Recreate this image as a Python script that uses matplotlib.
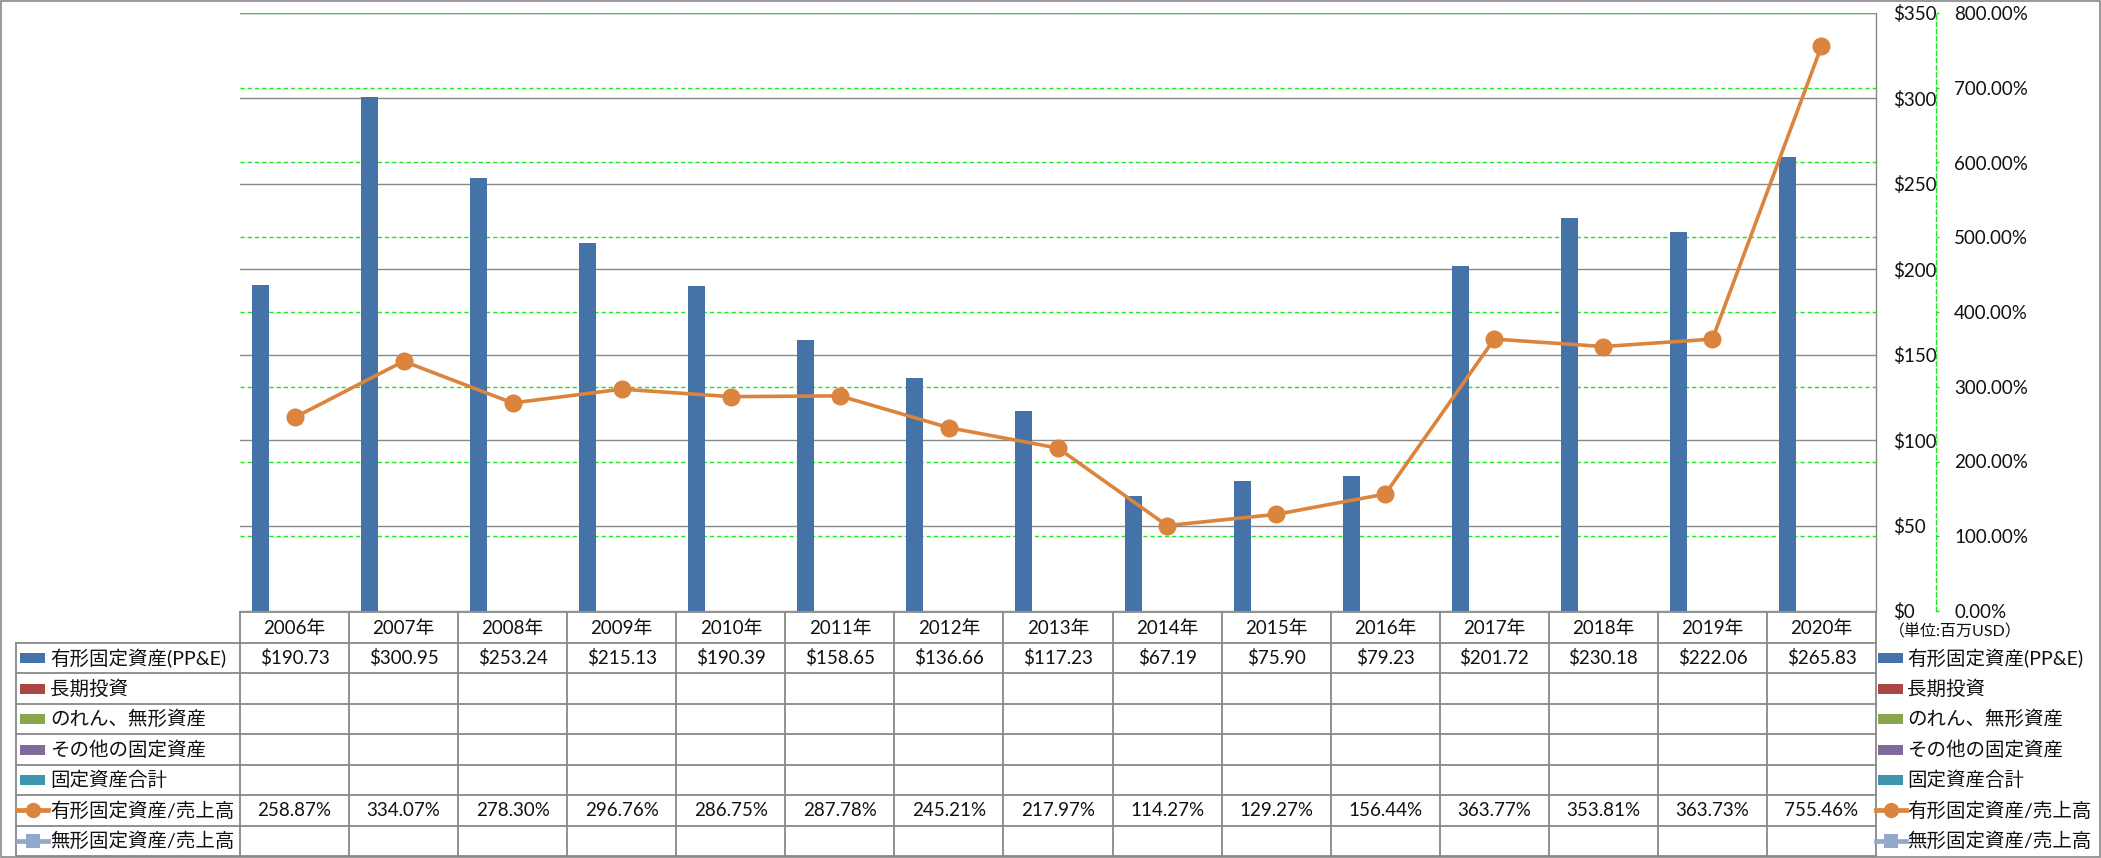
import matplotlib
matplotlib.use('Agg')
import matplotlib.pyplot as plt
from matplotlib import transforms
from matplotlib.patches import Rectangle
from matplotlib.lines import Line2D
from matplotlib.ticker import FuncFormatter

# ---------------- data ----------------
years = ['2006年', '2007年', '2008年', '2009年', '2010年', '2011年', '2012年', '2013年',
         '2014年', '2015年', '2016年', '2017年', '2018年', '2019年', '2020年']
ppe = [190.73, 300.95, 253.24, 215.13, 190.39, 158.65, 136.66, 117.23,
       67.19, 75.90, 79.23, 201.72, 230.18, 222.06, 265.83]
ppe_ratio = [258.87, 334.07, 278.30, 296.76, 286.75, 287.78, 245.21, 217.97,
             114.27, 129.27, 156.44, 363.77, 353.81, 363.73, 755.46]
series_names = ['有形固定資産(PP&E)', '長期投資', 'のれん、無形資産', 'その他の固定資産',
                '固定資産合計', '有形固定資産/売上高', '無形固定資産/売上高']
series_colors = ['#4572A7', '#AA4643', '#89A54E', '#80699B', '#3D96AE', '#DB843D', '#92A8CD']
series_kinds = ['bar', 'bar', 'bar', 'bar', 'bar', 'line_o', 'line_s']
usd_ticks = [0, 50, 100, 150, 200, 250, 300, 350]
pct_ticks = [0, 100, 200, 300, 400, 500, 600, 700, 800]
unit_label = '（単位:百万USD）'

# ---------------- style ----------------
plt.rcParams['font.family'] = ['Lato', 'Noto Sans CJK JP']
W, H = 2101, 858
PL, PR, PT, PB = 240, 1876, 13, 611
GRAY = '#888888'
GREEN = '#19E619'
TXT = '#111111'

fig = plt.figure(figsize=(W / 100, H / 100), dpi=100)
ax = fig.add_axes([PL / W, 1 - PB / H, (PR - PL) / W, (PB - PT) / H])
ax2 = ax.twinx()

n = len(years)
x = list(range(n))
bw = 0.156

# bars (first slot of five clustered series)
ax.bar([i - 2 * bw for i in x], ppe, width=bw, color=series_colors[0], zorder=3)
ax.set_xlim(-0.5, n - 0.5)
ax.set_ylim(0, 350)
ax.set_yticks(usd_ticks)
ax.yaxis.set_major_formatter(FuncFormatter(lambda v, p: f'${v:.0f}'))
ax.yaxis.tick_right()
ax.tick_params(axis='y', length=0, pad=12.2, labelsize=13.5, labelcolor=TXT)
ax.set_xticks([])
ax.grid(axis='y', color=GRAY, lw=1.0, zorder=0)
ax.set_axisbelow(True)
for s in ['top', 'left', 'bottom']:
    ax.spines[s].set_visible(False)
ax.spines['right'].set_color(GRAY)
ax.spines['right'].set_linewidth(1.0)

# secondary axis
ax2.set_ylim(0, 800)
ax2.set_yticks(pct_ticks)
ax2.yaxis.set_major_formatter(FuncFormatter(lambda v, p: f'{v:.2f}%'))
ax2.set_xticks([])
for s in ['top', 'left', 'bottom']:
    ax2.spines[s].set_visible(False)
ax2.spines['right'].set_position(('outward', 43.2))
ax2.spines['right'].set_color(GREEN)
ax2.spines['right'].set_linestyle((0, (3, 2.2)))
ax2.spines['right'].set_linewidth(1.0)
ax2.tick_params(axis='y', length=2.5, width=1, color=GREEN, pad=10.5,
                labelsize=13.5, labelcolor=TXT)

# green dashed gridlines (secondary scale), drawn beneath the bars
gtr = transforms.blended_transform_factory(ax.transAxes, ax2.transData)
for t in pct_ticks[1:]:
    ax.plot([0, 1], [t, t], transform=gtr, color=GREEN, lw=1.0,
            ls=(0, (3, 2.2)), zorder=1)

ax2.plot(x, ppe_ratio, color=series_colors[5], lw=2.6, marker='o', ms=13,
         markeredgewidth=0, zorder=4, clip_on=False)

# ---------------- table overlay ----------------
ov = fig.add_axes([0, 0, 1, 1], zorder=10)
ov.set_xlim(0, W)
ov.set_ylim(H, 0)
ov.axis('off')
ov.patch.set_visible(False)
bt = transforms.blended_transform_factory(ax.transData, ov.transData)

HT, HB = 612, 643
TB = 856
nrows = len(series_names)
RH = (TB - HB) / nrows
TL = 16
LW_T = 1.3

# header row
ov.plot([-0.5, n - 0.5], [HT, HT], transform=bt, color=GRAY, lw=LW_T, clip_on=False)
for i in range(n + 1):
    ov.plot([i - 0.5, i - 0.5], [HT, TB], transform=bt, color=GRAY, lw=LW_T, clip_on=False)
for i, yl in enumerate(years):
    ov.text(i, (HT + HB) / 2 + 1, yl, transform=bt, ha='center', va='center',
            fontsize=13.5, color=TXT)
# data rows
for r in range(nrows + 1):
    yy = HB + r * RH
    ov.plot([TL, PL], [yy, yy], color=GRAY, lw=LW_T)
    ov.plot([-0.5, n - 0.5], [yy, yy], transform=bt, color=GRAY, lw=LW_T, clip_on=False)
ov.plot([TL, TL], [HB, TB], color=GRAY, lw=LW_T)


def handle(x0, yc, kind, color):
    if kind == 'bar':
        ov.add_patch(Rectangle((x0, yc - 5), 25, 10, color=color, lw=0))
    else:
        mk = 'o' if kind == 'line_o' else 's'
        ms = 11 if mk == 'o' else 10
        ov.add_line(Line2D([x0 - 2, x0 + 28], [yc, yc], color=color, lw=3.4))
        ov.add_line(Line2D([x0 + 13], [yc], color=color, marker=mk, ms=ms, markeredgewidth=0))


row_values = {0: [f'${v:.2f}' for v in ppe], 5: [f'{v:.2f}%' for v in ppe_ratio]}
for r, (name, col, kind) in enumerate(zip(series_names, series_colors, series_kinds)):
    yc = HB + (r + 0.5) * RH
    handle(20, yc, kind, col)
    ov.text(50, yc, name, ha='left', va='center', fontsize=14, color=TXT)
    handle(1878, yc, kind, col)
    ov.text(1907, yc, name, ha='left', va='center', fontsize=14, color=TXT)
    if r in row_values:
        for i, s in enumerate(row_values[r]):
            ov.text(i, yc, s, transform=bt, ha='center', va='center',
                    fontsize=13.5, color=TXT)

ov.text(1889, 632, unit_label, ha='left', va='center', fontsize=11.5, color=TXT)

# outer border
ov.add_patch(Rectangle((0.5, 0.5), W - 1.5, H - 1.5, fill=False, ec=GRAY, lw=1.2))

fig.savefig('out.png', dpi=100)
